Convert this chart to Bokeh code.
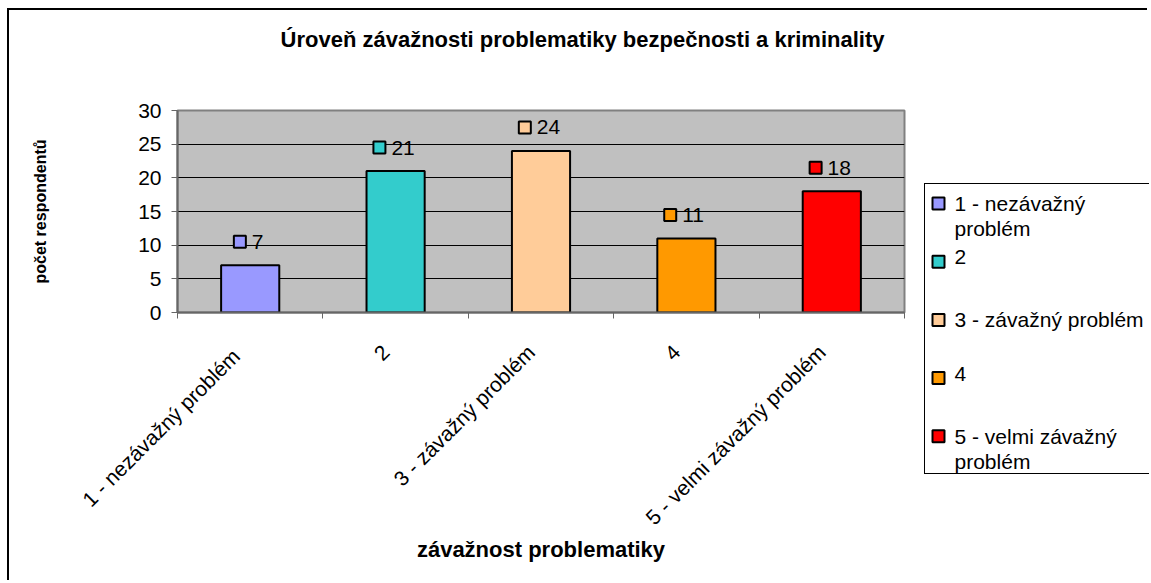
import math
from bokeh.plotting import figure
from bokeh.models import Range1d, FixedTicker, ColumnDataSource, Title
from bokeh.embed import file_html
from bokeh.resources import INLINE

# ---- data ----
categories = ["1 - nezávažný  problém", "2", "3 - závažný problém", "4", "5 - velmi závažný problém"]
legend_labels = ["1 - nezávažný\nproblém", "2", "3 - závažný problém", "4", "5 - velmi závažný\nproblém"]
counts = [7, 21, 24, 11, 18]
colors = ["#9999FF", "#33CCCC", "#FFCC99", "#FF9900", "#FF0000"]
y_ticks = [0, 5, 10, 15, 20, 25, 30]
title_text = "Úroveň závažnosti problematiky bezpečnosti a kriminality"
x_title = "závažnost problematiky"
y_title = "počet respondentů"

# ---- layout constants (px) ----
OX, OY = 9, 10                      # content origin on the page (margin + border)
W, H = 1140, 572
FL, FR, FT, FB = 177 - OX, 904 - OX, 110 - OY, 312 - OY
FW, FH = FR - FL, FB - FT
N = len(categories)
YMAX = 30
PX = FW / N
PY = FH / YMAX
FONT = "Liberation Sans"
FS = "21px"

p = figure(width=W, height=H, output_backend="svg", toolbar_location=None, title=None,
           x_range=Range1d(0, N), y_range=Range1d(0, YMAX),
           min_border_left=FL, min_border_right=W - FR,
           min_border_top=FT, min_border_bottom=H - FB)
p.styles = {"margin-left": "7px", "margin-top": "8px",
            "border-left": "2px solid #000000", "border-top": "2px solid #000000"}
p.background_fill_color = "#C0C0C0"
p.border_fill_color = "white"
p.outline_line_color = "#808080"
p.outline_line_width = 2

# title (a blank spacer title keeps it away from the plot area)
p.add_layout(Title(text=" ", text_font_size="1px", standoff=56), "above")
p.add_layout(Title(text=title_text, align="right", offset=20, standoff=0,
                   text_font=FONT, text_font_style="bold", text_font_size="22px",
                   text_color="black"), "above")

xs = [i + 0.5 for i in range(N)]

# grid
p.xgrid.visible = False
p.ygrid.ticker = FixedTicker(ticks=y_ticks)
p.ygrid.grid_line_color = "black"
p.ygrid.grid_line_width = 1

# bars
src = ColumnDataSource(dict(x=xs, top=counts, color=colors))
p.vbar(x="x", top="top", width=0.4, fill_color="color", line_color="black",
       line_width=2, source=src)

# data labels: small coloured square + number
label_font_px = 21
digit_w = 0.556 * label_font_px
pad = 23.5 / PY
sq_x, txt_x, lab_y, lab_txt = [], [], [], []
for xc, v in zip(xs, counts):
    s = str(v)
    gw = 14 + 5 + digit_w * len(s)
    sq_c = -2 - gw / 2 + 7
    sq_x.append(xc + sq_c / PX)
    txt_x.append(xc + (sq_c + 12) / PX)
    lab_y.append(v + pad)
    lab_txt.append(s)
p.scatter(x=sq_x, y=lab_y, marker="square", size=12, fill_color=colors,
          line_color="black", line_width=2)
p.text(x=txt_x, y=lab_y, text=lab_txt, text_align="left", text_baseline="middle",
       text_font_size=f"{label_font_px}px", text_font={"value": FONT}, text_color="black")

# y axis
ya = p.yaxis[0]
ya.ticker = FixedTicker(ticks=y_ticks)
ya.axis_line_color = "#666666"
ya.axis_line_width = 2
ya.major_tick_line_color = "#666666"
ya.major_tick_out = 6
ya.major_tick_in = 0
ya.minor_tick_line_color = None
ya.major_label_standoff = 10
ya.major_label_text_font = FONT
ya.major_label_text_font_size = FS
ya.major_label_text_color = "black"
ya.axis_label = y_title
ya.axis_label_text_font = FONT
ya.axis_label_text_font_style = "bold"
ya.axis_label_text_font_size = "16px"
ya.axis_label_text_color = "black"
ya.axis_label_standoff = 86

# x axis: category boundaries get the visible ticks, labels hang below centres
lab_shift = 10 / PX
lab_pos = [x - lab_shift for x in xs]
xa = p.xaxis[0]
xa.ticker = FixedTicker(ticks=lab_pos, minor_ticks=list(range(N + 1)))
xa.major_label_overrides = {x: c for x, c in zip(lab_pos, categories)}
xa.axis_line_color = "#666666"
xa.axis_line_width = 2
xa.major_tick_line_color = None
xa.major_tick_out = 0
xa.major_tick_in = 0
xa.minor_tick_line_color = "#666666"
xa.minor_tick_out = 6
xa.minor_tick_in = 0
xa.major_label_orientation = math.pi / 4
xa.major_label_standoff = 30
xa.major_label_text_font = FONT
xa.major_label_text_font_size = FS
xa.major_label_text_color = "black"
xa.axis_label = x_title
xa.axis_label_text_font = FONT
xa.axis_label_text_font_style = "bold"
xa.axis_label_text_font_size = "22px"
xa.axis_label_text_color = "black"
xa.axis_label_standoff = -3

# ---- legend box: a small frame-only figure laid over the chart's right margin ----
# (its right edge runs off the page, as in the original)
LBX, LBY = 925, 184                 # box content top-left on the page
LBW, LBH = 1151 - LBX - 1, 291
ROW = LBH / len(legend_labels)
lp = figure(width=LBW, height=LBH, output_backend="svg", toolbar_location=None,
            x_range=Range1d(0, LBW), y_range=Range1d(LBH, 0),
            x_axis_type=None, y_axis_type=None,
            min_border_left=0, min_border_right=0, min_border_top=0, min_border_bottom=0)
lp.styles = {"position": "absolute", "left": f"{LBX - 1}px", "top": f"{LBY - 1}px",
             "border-left": "1px solid #000000", "border-top": "1px solid #000000",
             "border-bottom": "1px solid #000000"}
lp.outline_line_color = None
lp.background_fill_color = "white"
lp.border_fill_color = "white"
lp.grid.visible = False

row_y = [19 + i * ROW for i in range(len(legend_labels))]
lp.scatter(x=[13] * len(row_y), y=row_y, marker="square", size=12,
           fill_color=colors, line_color="black", line_width=2)
lp.text(x=[29] * len(row_y), y=[y - 11.5 for y in row_y], text=legend_labels,
        text_align="left", text_baseline="top", text_line_height=1.1,
        text_font_size=FS, text_font={"value": FONT}, text_color="black")

open("out.html", "w").write(file_html([p, lp], INLINE))
